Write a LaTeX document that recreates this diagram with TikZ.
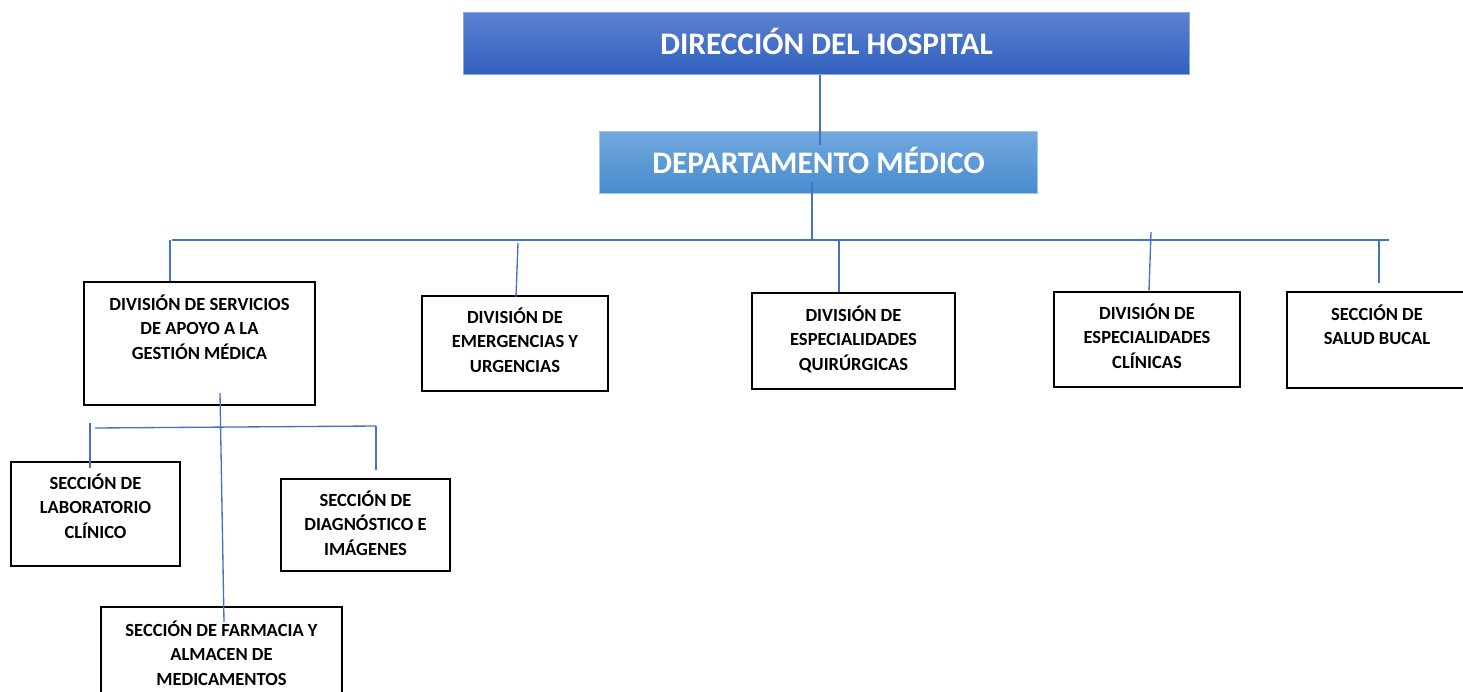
\documentclass[tikz,border=0pt]{standalone}
\usepackage{fontspec}
\setmainfont{Carlito}
\newlength{\ux}
\setlength{\ux}{0.75pt}
% box text: width, height, first baseline, lines
\newcommand{\boxtxt}[4]{\parbox[c][#2\ux][t]{#1\ux}{\centering\rule{0pt}{#3\ux}#4}}
\definecolor{linkblue}{RGB}{68,114,196}
\begin{document}
\begin{tikzpicture}[x=0.75pt, y=-0.75pt,
  unit/.style={draw=black, line width=1.5pt, inner sep=0pt, anchor=north west,
    font=\bfseries\fontsize{13.9}{18.5}\selectfont},
  head/.style={anchor=north west, inner sep=0pt, text=white, line width=0.8pt,
    font=\bfseries\fontsize{23.5}{28}\selectfont},
  link/.style={draw=linkblue, line width=1pt}]
  \useasboundingbox (0,0) rectangle (1463,692);

  % top of the chart
  \node[head, minimum width=726\ux, minimum height=62\ux, text depth=3pt,
    top color={rgb,255:red,92;green,129;blue,210}, bottom color={rgb,255:red,48;green,96;blue,190},
    draw={rgb,255:red,140;green,170;blue,222}] (direccion) at (463,12) {DIRECCIÓN DEL HOSPITAL};
  \node[head, minimum width=438\ux, minimum height=62\ux, text depth=3pt,
    top color={rgb,255:red,114;green,168;blue,222}, bottom color={rgb,255:red,72;green,140;blue,206},
    draw={rgb,255:red,165;green,198;blue,232}] (depto) at (599,131) {DEPARTAMENTO MÉDICO};

  % divisions
  \node[unit] (apoyo) at (83,281) {\boxtxt{231}{123}{28}{DIVISIÓN DE SERVICIOS\\DE APOYO A LA\\GESTIÓN MÉDICA}};
  \node[unit] (emergencias) at (421,295) {\boxtxt{186}{95}{27}{DIVISIÓN DE\\EMERGENCIAS Y\\URGENCIAS}};
  \node[unit] (quirurgicas) at (751,292) {\boxtxt{203}{96}{28}{DIVISIÓN DE\\ESPECIALIDADES\\QUIRÚRGICAS}};
  \node[unit] (clinicas) at (1053,291) {\boxtxt{186}{95}{27}{DIVISIÓN DE\\ESPECIALIDADES\\CLÍNICAS}};
  \node[unit] (bucal) at (1286,291) {\boxtxt{180}{96}{28}{SECCIÓN DE\\SALUD BUCAL}};

  % sections under apoyo
  \node[unit] (laboratorio) at (10,461) {\boxtxt{169}{104}{27}{SECCIÓN DE\\LABORATORIO\\CLÍNICO}};
  \node[unit] (diagnostico) at (280,478) {\boxtxt{169}{92}{27}{SECCIÓN DE\\DIAGNÓSTICO E\\IMÁGENES}};
  \node[unit] (farmacia) at (100,606) {\boxtxt{241}{100}{29}{SECCIÓN DE FARMACIA Y\\ALMACEN DE\\MEDICAMENTOS}};

  % connectors
  \coordinate (busL) at (172,240);
  \coordinate (busR) at (1389,240);
  \draw[link] ([xshift=357\ux]direccion.south west) -- ([shift={(221,14)}]depto.north west);
  \draw[link] ([shift={(213,-12)}]depto.south west) -- ++(0,58);
  \draw[link] (busL) -- (busR);
  \draw[link] ([xshift=87\ux]apoyo.north west) -- ++(0,-41);
  \draw[link] ([shift={(95,2)}]emergencias.north west) -- ++(2,-54);
  \draw[link] ([xshift=88\ux]quirurgicas.north west) -- ++(0,-52);
  \draw[link] ([xshift=96\ux]clinicas.north west) -- ++(2,-59);
  \draw[link] ([shift={(93,-8)}]bucal.north west) -- ++(0,-43);

  \draw[link] ([shift={(137,-13)}]apoyo.south west) -- ([shift={(124,16)}]farmacia.north west);
  \draw[link] ([shift={(85,-33)}]laboratorio.north west) -- ([shift={(96,-52)}]diagnostico.north west);
  \draw[link] ([shift={(80,7)}]laboratorio.north west) -- ++(0,-45);
  \draw[link] ([shift={(96,-8)}]diagnostico.north west) -- ++(0,-44);
\end{tikzpicture}
\end{document}
